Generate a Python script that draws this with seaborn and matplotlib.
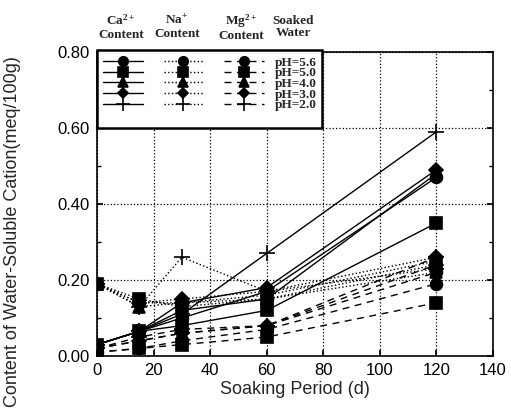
import matplotlib
matplotlib.use("Agg")
import matplotlib.pyplot as plt
import seaborn as sns
import pandas as pd
from matplotlib.lines import Line2D
from matplotlib.ticker import MultipleLocator

sns.set_theme(style="ticks")
plt.rcParams['font.family'] = ['Liberation Sans', 'DejaVu Sans']
plt.rcParams['mathtext.default'] = 'regular'

# ---- data ----
days = [0, 15, 30, 60, 120]
ph_labels = ["pH=5.6", "pH=5.0", "pH=4.0", "pH=3.0", "pH=2.0"]

ca_56 = [0.03, 0.065, 0.10, 0.17, 0.47]
ca_50 = [0.03, 0.065, 0.08, 0.12, 0.35]
ca_40 = [0.03, 0.065, 0.12, 0.15, 0.48]
ca_30 = [0.03, 0.065, 0.14, 0.18, 0.49]
ca_20 = [0.03, 0.065, 0.11, 0.27, 0.59]

na_56 = [0.19, 0.14, 0.14, 0.15, 0.22]
na_50 = [0.19, 0.15, 0.13, 0.15, 0.24]
na_40 = [0.19, 0.13, 0.14, 0.16, 0.25]
na_30 = [0.19, 0.14, 0.15, 0.17, 0.26]
na_20 = [0.19, 0.13, 0.26, 0.17, 0.23]

mg_56 = [0.01, 0.02, 0.04, 0.07, 0.19]
mg_50 = [0.01, 0.02, 0.03, 0.05, 0.14]
mg_40 = [0.02, 0.04, 0.06, 0.08, 0.22]
mg_30 = [0.02, 0.04, 0.06, 0.08, 0.24]
mg_20 = [0.02, 0.05, 0.07, 0.08, 0.26]

headers = ["Ca$^{2+}$\nContent", "Na$^{+}$\nContent", "Mg$^{2+}$\nContent", "Soaked\nWater"]

series = {
    "Ca": [ca_56, ca_50, ca_40, ca_30, ca_20],
    "Na": [na_56, na_50, na_40, na_30, na_20],
    "Mg": [mg_56, mg_50, mg_40, mg_30, mg_20],
}

markers = ['o', 's', '^', 'D', '+']
msizes = [8.5, 8.5, 9, 7, 12]
styles = {"Ca": '-', "Na": ':', "Mg": (0, (5, 4))}

fig = plt.figure(figsize=(5.11, 4.12), dpi=100)
ax = fig.add_axes([0.1898, 0.1359, 0.775, 0.7379])

handles = {"Ca": [], "Na": [], "Mg": []}
for cat, vals in series.items():
    for i, v in enumerate(vals):
        df = pd.DataFrame({"day": days, "val": v})
        sns.lineplot(data=df, x="day", y="val", ax=ax, color='black',
                     marker=markers[i], markersize=msizes[i],
                     markeredgewidth=1.2, markeredgecolor='black',
                     linestyle=styles[cat], linewidth=1.0, legend=False)
        handles[cat].append(Line2D([], [], color='black', marker=markers[i],
                                   markersize=msizes[i] * 0.8, markeredgewidth=1.2,
                                   linestyle=styles[cat], linewidth=1.0))
    # blank row at the bottom of the legend box
    handles[cat].append(Line2D([], [], linestyle='none', marker=None))

ax.set_xlim(0, 140)
ax.set_ylim(0, 0.80)
ax.set_xticks(range(0, 141, 20))
ax.set_yticks([0.0, 0.2, 0.4, 0.6, 0.8])
ax.set_yticklabels(["0.00", "0.20", "0.40", "0.60", "0.80"])
ax.yaxis.set_minor_locator(MultipleLocator(0.1))
ax.tick_params(axis='both', which='both', direction='in', labelsize=12,
               right=True, colors='black')
ax.tick_params(axis='y', which='minor', length=3)
ax.tick_params(axis='both', which='major', length=4, pad=5)
ax.grid(True, which='major', linestyle=':', color='black', linewidth=0.9)
for s in ax.spines.values():
    s.set_color('black')
    s.set_linewidth(1.2)

ax.set_xlabel("Soaking Period (d)", fontsize=13, labelpad=2)
ax.set_ylabel("Content of Water-Soluble Cation(meq/100g)", fontsize=13)
ax.yaxis.set_label_coords(-0.192, 0.41)

leg_handles = handles["Ca"] + handles["Na"] + handles["Mg"]
leg_labels = [""] * 12 + ph_labels + [""]
leg = ax.legend(leg_handles, leg_labels, ncol=3, loc='upper left',
                bbox_to_anchor=(0.0, 1.005), borderaxespad=0, frameon=True,
                fancybox=False, framealpha=1, edgecolor='black',
                prop={'family': 'Liberation Serif', 'weight': 'bold', 'size': 9.5},
                handlelength=3.0, handletextpad=0.8, columnspacing=0.8,
                labelspacing=-0.12, borderpad=0.45)
leg.get_frame().set_linewidth(1.8)

hx = [121, 177, 241, 293]
for x, h in zip(hx, headers):
    fig.text(x / 511, 1 - 27 / 412, h, ha='center', va='center',
             family='Liberation Serif', weight='bold', fontsize=9.5,
             linespacing=1.05)

fig.savefig("out.png", dpi=100)
